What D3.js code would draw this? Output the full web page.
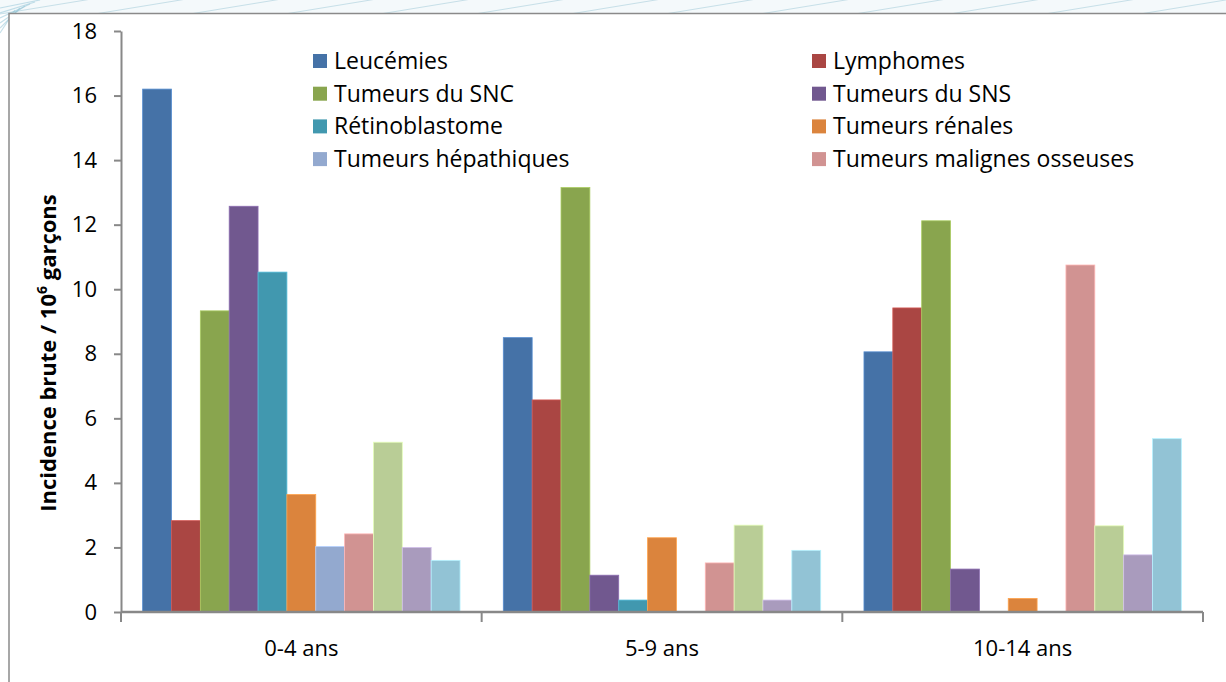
<!DOCTYPE html>
<html><head><meta charset="utf-8">
<script src="https://cdn.jsdelivr.net/npm/d3@7"></script>
<style>
html,body{margin:0;padding:0;background:#fff;}
svg{display:block;font-family:"Open Sans","Liberation Sans",Arial,sans-serif;}
</style></head>
<body>
<svg id="c" width="1226" height="682"></svg>
<script>
const categories = ["0-4 ans", "5-9 ans", "10-14 ans"];
const seriesNames = ["Leucémies", "Lymphomes", "Tumeurs du SNC", "Tumeurs du SNS", "Rétinoblastome",
  "Tumeurs rénales", "Tumeurs hépathiques", "Tumeurs malignes osseuses",
  "Sarcomes des tissus mous", "Tumeurs germinales", "Carcinomes"];
const legendNames = ["Leucémies", "Lymphomes", "Tumeurs du SNC", "Tumeurs du SNS", "Rétinoblastome",
  "Tumeurs rénales", "Tumeurs hépathiques", "Tumeurs malignes osseuses"];
const colors = ["#4572A7", "#AA4643", "#89A54E", "#71588F", "#4198AF", "#DB843D",
  "#93A9CF", "#D19392", "#B9CD96", "#A99BBD", "#92C3D5"];
// values per series, one value per age group
const leucemies = [16.2, 8.5, 8.06];
const lymphomes = [2.83, 6.57, 9.42];
const snc = [9.33, 13.15, 12.12];
const sns = [12.57, 1.14, 1.33];
const retino = [10.53, 0.37, 0];
const renales = [3.64, 2.3, 0.42];
const hepatiques = [2.03, 0, 0];
const osseuses = [2.42, 1.52, 10.75];
const tissusMous = [5.26, 2.69, 2.67];
const germinales = [2.0, 0.37, 1.77];
const carcinomes = [1.6, 1.91, 5.37];
const seriesValues = [leucemies, lymphomes, snc, sns, retino, renales, hepatiques, osseuses, tissusMous, germinales, carcinomes];
const yTicks = [0, 2, 4, 6, 8, 10, 12, 14, 16, 18];

const svg = d3.select("#c");
const W = 1226, H = 682;

// slide background strip with faint diagonal lines
const bg = svg.append("g");
bg.append("rect").attr("x", 0).attr("y", 0).attr("width", W).attr("height", 14).attr("fill", "#f4f9fb");
for (let i = -2; i < 14; i++) {
  const sx = i * 95;
  bg.append("line").attr("x1", sx).attr("y1", 14).attr("x2", sx + 110).attr("y2", -4)
    .attr("stroke", "#a9cfdc").attr("stroke-width", 1).attr("opacity", 0.6);
}
for (let i = 0; i < 6; i++) {
  bg.append("line").attr("x1", 0).attr("y1", 8 + i * 5).attr("x2", 40 - i * 5).attr("y2", i * 2)
    .attr("stroke", "#8ec3d6").attr("stroke-width", 1.2).attr("opacity", 0.5);
}
// chart frame
svg.append("rect").attr("x", 9).attr("y", 13.5).attr("width", W + 10).attr("height", H + 10)
  .attr("fill", "#fff").attr("stroke", "#8a8a8a").attr("stroke-width", 1.5);

const mLeft = 121, mRight = 1203, mTop = 31, mBottom = 612;
const x0 = d3.scaleBand().domain(categories).range([mLeft, mRight]).paddingInner(0).paddingOuter(0);
const bw = x0.bandwidth() / 12.5;
const x1 = d3.scaleBand().domain(d3.range(seriesNames.length))
  .range([bw * 0.75, x0.bandwidth() - bw * 0.75]).padding(0);
const y = d3.scaleLinear().domain([0, 18]).range([mBottom, mTop]);

// bars
const g = svg.append("g");
seriesValues.forEach((vals, si) => {
  const c = d3.color(colors[si]);
  g.selectAll(null).data(vals.map((v, ci) => ({ v, c: categories[ci] })).filter(d => d.v > 0))
    .enter().append("rect")
    .attr("x", d => x0(d.c) + x1(si))
    .attr("y", d => y(d.v))
    .attr("width", x1.bandwidth())
    .attr("height", d => y(0) - y(d.v))
    .attr("fill", colors[si])
    .attr("stroke", c.brighter(0.6))
    .attr("stroke-width", 0.8);
});

// y axis
const yAxis = d3.axisLeft(y).tickValues(yTicks).tickSize(7).tickPadding(17).tickSizeOuter(0).tickFormat(d3.format("d"));
const ya = svg.append("g").attr("transform", `translate(${mLeft},0)`).call(yAxis);
ya.attr("font-size", null).attr("font-family", null);
ya.select(".domain").attr("stroke", "#888").attr("stroke-width", 2);
ya.selectAll(".tick line").attr("stroke", "#888").attr("stroke-width", 2);
ya.selectAll(".tick text").attr("fill", "#000")
  .style("font-size", "22px").style("font-family", "'Open Sans', sans-serif");

// x axis
const xa = svg.append("g").attr("transform", `translate(0,${mBottom})`);
xa.append("line").attr("x1", mLeft).attr("x2", mRight).attr("y1", 0).attr("y2", 0)
  .attr("stroke", "#888").attr("stroke-width", 2.5);
const bounds = categories.map(c => x0(c)).concat([mRight]);
xa.selectAll(null).data(bounds).enter().append("line")
  .attr("x1", d => d).attr("x2", d => d).attr("y1", 0).attr("y2", 10)
  .attr("stroke", "#888").attr("stroke-width", 2);
xa.selectAll(null).data(categories).enter().append("text")
  .attr("x", d => x0(d) + x0.bandwidth() / 2).attr("y", 44)
  .attr("text-anchor", "middle").attr("fill", "#000")
  .style("font-size", "22px").style("font-family", "'Open Sans', sans-serif")
  .text(d => d);

// y label
const yl = svg.append("text")
  .attr("transform", `translate(56,${353}) rotate(-90)`)
  .attr("text-anchor", "middle").attr("font-weight", "bold")
  .style("font-size", "22px").style("font-family", "'Open Sans', sans-serif").attr("fill", "#000");
yl.append("tspan").text("Incidence brute / 10");
yl.append("tspan").attr("dy", -9).style("font-size", "14px").text("6");
yl.append("tspan").attr("dy", 9).text(" garçons");

// legend
const lg = svg.append("g");
legendNames.forEach((n, i) => {
  const col = i % 2, row = Math.floor(i / 2);
  const lx = col === 0 ? 313 : 812, ly = 61 + row * 32.7;
  lg.append("rect").attr("x", lx).attr("y", ly - 7).attr("width", 14).attr("height", 14)
    .attr("fill", colors[i]);
  lg.append("text").attr("x", lx + 21).attr("y", ly + 8).attr("fill", "#000")
    .style("font-size", "23px").style("font-family", "'Open Sans', sans-serif").text(n);
});
</script>
</body></html>
